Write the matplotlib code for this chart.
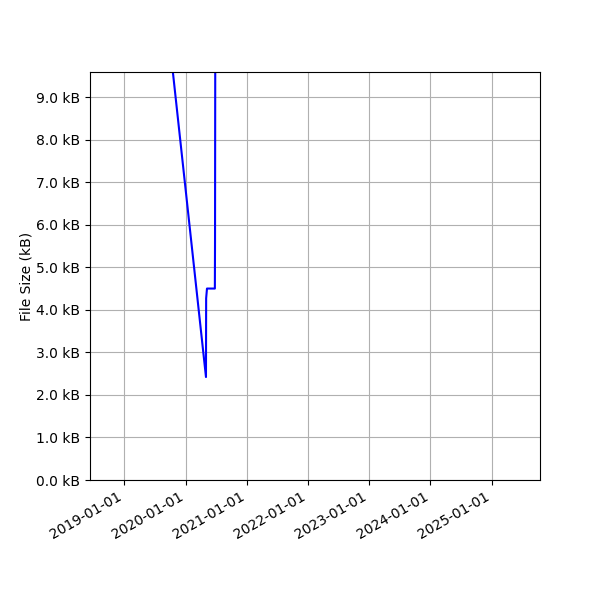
import matplotlib
matplotlib.use("Agg")
import matplotlib.pyplot as plt
import matplotlib.dates as mdates
from matplotlib.ticker import FuncFormatter
import pandas as pd

dates = ["2019-08-01", "2020-05-02", "2020-05-03", "2020-05-08", "2020-06-24", "2020-06-25", "2020-06-27"]
sizes_kb = [12.4, 2.42, 4.27, 4.5, 4.5, 5.6, 12.0]
xlim_dates = ["2018-06-10", "2025-10-16"]
ylim_kb = [0.0, 9.59]

x = pd.to_datetime(dates)

fig = plt.figure(figsize=(6, 6), dpi=100)
ax = fig.add_axes([0.15, 0.2, 0.75, 0.68])
ax.plot(x, sizes_kb, color="blue", linewidth=1.5)
ax.set_xlim(pd.to_datetime(xlim_dates[0]), pd.to_datetime(xlim_dates[1]))
ax.set_ylim(*ylim_kb)
ax.yaxis.set_major_locator(matplotlib.ticker.MultipleLocator(1.0))
ax.yaxis.set_major_formatter(FuncFormatter(lambda v, p: f"{v:.1f} kB"))
ax.xaxis.set_major_locator(mdates.YearLocator())
ax.xaxis.set_major_formatter(mdates.DateFormatter("%Y-%m-%d"))
ax.set_ylabel("File Size (kB)", labelpad=2)
ax.grid(True)
for lbl in ax.get_xticklabels():
    lbl.set_rotation(30)
    lbl.set_ha("right")
fig.savefig("out.png", dpi=100)
